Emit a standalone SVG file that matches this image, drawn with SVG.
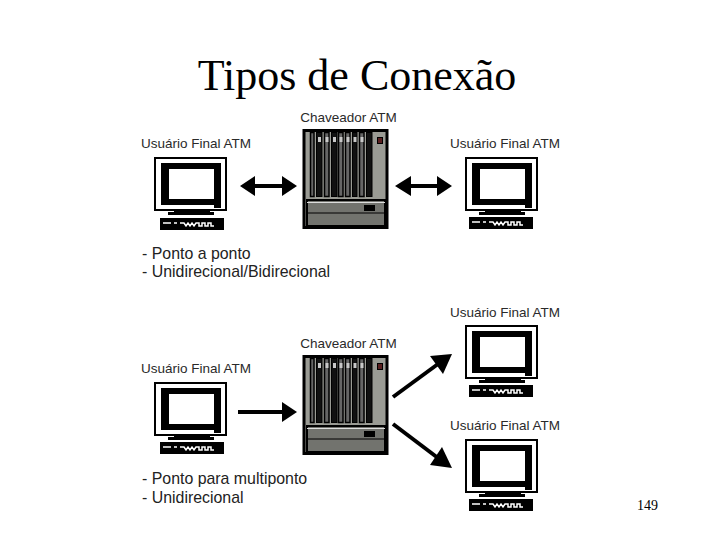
<svg xmlns="http://www.w3.org/2000/svg" width="720" height="540" viewBox="0 0 720 540">
<style>
.t{font-family:"Liberation Serif",serif;fill:#000}
.l{font-family:"Liberation Sans",Arial,sans-serif;fill:#2a2a2a;font-size:13.500px}
.b{font-family:"Liberation Sans",Arial,sans-serif;fill:#222;font-size:15.900px}
.a{stroke:#000;stroke-width:4;fill:none}
.h{fill:#000}
</style>
<defs>
<g id="mon">
<rect x="1" y="1" width="71" height="52" fill="#fff" stroke="#000" stroke-width="2"/>
<rect x="7" y="6" width="60" height="42" fill="#000"/>
<rect x="15" y="12" width="45" height="30" fill="#fff"/>
<rect x="60" y="48" width="7" height="3" fill="#000"/>
<rect x="20" y="52" width="36" height="3" fill="#000"/>
<rect x="14" y="55" width="46" height="3" fill="#000"/>
</g>
<g id="kb">
<rect x="0" y="0" width="64" height="12" fill="#000"/>
<path d="M3 5h8M14 5h3M20 5h4l2 3 2-3 2 3 2-3 2 3 2-3h3v3h3v-3h3v3h3v-3h3v3h3" fill="none" stroke="#fff" stroke-width="1.500"/>
</g>
<g id="sw">
<rect x="2" y="1.500" width="83" height="97" fill="#9a9b94" stroke="#000" stroke-width="3"/>
<g fill="#666" stroke="#000" stroke-width="1.500">
<rect x="8.500" y="3.500" width="3.500" height="64"/>
<rect x="22.500" y="3.500" width="4.500" height="64"/>
<rect x="36.500" y="3.500" width="4.500" height="64"/>
<rect x="43.500" y="3.500" width="4.500" height="64"/>
<rect x="57.500" y="3.500" width="4.500" height="64"/>
</g>
<g fill="#111" stroke="#000" stroke-width="1">
<rect x="14.500" y="3.500" width="5.500" height="64"/>
<rect x="29.500" y="3.500" width="5.500" height="64"/>
<rect x="50.500" y="3.500" width="4.500" height="64"/>
<rect x="64.500" y="3.500" width="5.500" height="64"/>
</g>
<g fill="#c8c8c8">
<rect x="16" y="8" width="3" height="5"/>
<rect x="23.500" y="8" width="3" height="5"/>
<rect x="31" y="8" width="3" height="5"/>
<rect x="37.500" y="8" width="3" height="5"/>
<rect x="44.500" y="8" width="3" height="5"/>
<rect x="51.500" y="8" width="3" height="5"/>
<rect x="58.500" y="8" width="3" height="5"/>
</g>
<rect x="75.500" y="8.500" width="5" height="6" fill="#5a2020" stroke="#000"/>
<rect x="5" y="71" width="78" height="26" fill="#72736e" stroke="#000" stroke-width="2"/>
<path d="M5 73.500H83" stroke="#ddd" stroke-width="1"/>
<path d="M5 84H83" stroke="#000" stroke-width="1"/>
<rect x="62" y="76" width="11" height="6" fill="#000"/>
</g>
</defs>
<text class="t" x="357" y="90" font-size="44" text-anchor="middle">Tipos de Conexão</text>
<g id="s1"><text class="l" x="348.500" y="122" text-anchor="middle">Chaveador ATM</text><use href="#sw" x="302" y="129"/></g>
<g id="u1"><text class="l" x="196" y="148" text-anchor="middle">Usuário Final ATM</text><use href="#mon" x="154" y="157"/><use href="#kb" x="160" y="218"/></g>
<g id="u2"><text class="l" x="505" y="148" text-anchor="middle">Usuário Final ATM</text><use href="#mon" x="465" y="157"/><use href="#kb" x="469" y="217"/></g>
<g id="s2"><text class="l" x="348.500" y="348" text-anchor="middle">Chaveador ATM</text><use href="#sw" x="302" y="355"/></g>
<g id="u3"><text class="l" x="196" y="373" text-anchor="middle">Usuário Final ATM</text><use href="#mon" x="154" y="382"/><use href="#kb" x="160" y="442"/></g>
<g id="u4"><text class="l" x="505" y="317" text-anchor="middle">Usuário Final ATM</text><use href="#mon" x="465" y="325"/><use href="#kb" x="469" y="385"/></g>
<g id="u5"><text class="l" x="505" y="430" text-anchor="middle">Usuário Final ATM</text><use href="#mon" x="465" y="439"/><use href="#kb" x="469" y="499"/></g>
<g id="connectors">
<path class="a" d="M250 186H285"/><path class="h" d="M240 186l15-10v20zM297 186l-15-10v20z"/>
<path class="a" d="M405 186H441"/><path class="h" d="M395 186l16-10v20zM452 186l-15-10v20z"/>
<path class="a" d="M238 412H285"/><path class="h" d="M297 412l-15-10v20z"/>
<path class="a" stroke-width="5" d="M393 397L438 364"/><path class="h" d="M452 354l-9 20-13-18z"/>
<path class="a" stroke-width="5" d="M393 424L438 458"/><path class="h" d="M452 468l-22-3 12-18z"/>
</g>
<text class="b" x="142" y="259">- Ponto a ponto</text>
<text class="b" x="142" y="277">- Unidirecional/Bidirecional</text>
<text class="b" x="142" y="484">- Ponto para multiponto</text>
<text class="b" x="142" y="503">- Unidirecional</text>
<text class="t" x="637" y="510" font-size="14">149</text>
</svg>
